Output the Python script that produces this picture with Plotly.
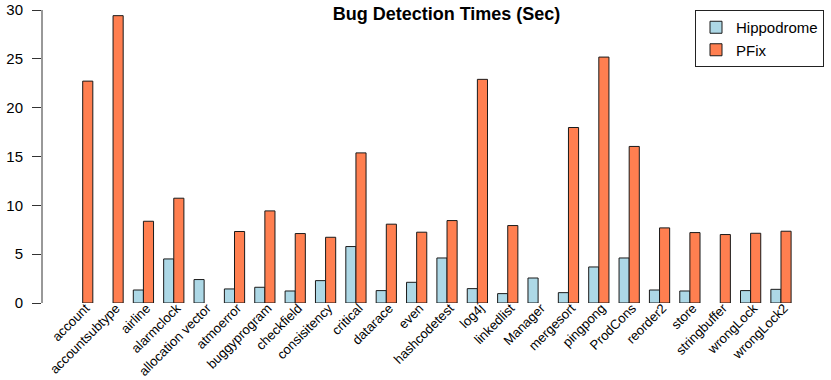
import plotly.graph_objects as go

# bug detection times (seconds)
programs = [
    "account", "accountsubtype", "airline", "alarmclock", "allocation vector",
    "atmoerror", "buggyprogram", "checkfield", "consisitency", "critical",
    "datarace", "even", "hashcodetest", "log4j", "linkedlist", "Manager",
    "mergesort", "pingpong", "ProdCons", "reorder2", "store", "stringbuffer",
    "wrongLock", "wrongLock2",
]
hippodrome = [
    None, None, 1.33, 4.51, 2.40, 1.44, 1.61, 1.23, 2.29, 5.78,
    1.27, 2.12, 4.61, 1.47, 0.96, 2.56, 1.06, 3.69, 4.61, 1.33,
    1.23, None, 1.27, 1.40,
]
pfix = [
    22.72, 29.42, 8.37, 10.73, None, 7.32, 9.43, 7.11, 6.73, 15.37,
    8.07, 7.25, 8.44, 22.90, 7.93, None, 17.97, 25.18, 16.03, 7.69,
    7.21, 7.01, 7.14, 7.35,
]
y_ticks = [0, 5, 10, 15, 20, 25, 30]

FONT = "Liberation Sans, Arial, Helvetica, sans-serif"
W, H = 831, 380
L, R = 42, 831          # plot area left/right in px
T, B = 4, 303           # plot area top/bottom in px (bottom = zero line)
px_y = 9.757            # px per second on the y axis
y_lo, y_hi = 0.0, 30 + 6 / px_y
grp0, grp_w = 82.7, 30.36   # px of first group centre, px per group

fig = go.Figure()
fig.add_trace(go.Bar(
    x=programs, y=hippodrome, name="Hippodrome", cliponaxis=False,
    marker=dict(color="#ADD8E6", line=dict(color="#1a1a1a", width=1)),
))
fig.add_trace(go.Bar(
    x=programs, y=pfix, name="PFix", cliponaxis=False,
    marker=dict(color="#FF7F50", line=dict(color="#1a1a1a", width=1)),
))

# R-style y axis: line spans only the tick range
fig.add_shape(type="line", xref="paper", yref="y", x0=0, x1=0,
              y0=y_ticks[0], y1=y_ticks[-1],
              line=dict(color="#333333", width=1))

fig.update_layout(
    width=W, height=H,
    margin=dict(l=L, r=W - R, t=T, b=H - B, autoexpand=False),
    paper_bgcolor="white", plot_bgcolor="white",
    font=dict(family=FONT, size=15, color="black"),
    barmode="group", bargap=1 / 3, bargroupgap=0,
    title=dict(text="<b>Bug Detection Times (Sec)</b>",
               font=dict(size=18, color="black"),
               x=446.5 / W, xref="container", xanchor="center",
               y=1 - 14 / H, yref="container", yanchor="middle"),
    xaxis=dict(
        range=[(L - grp0) / grp_w, (R - grp0) / grp_w],
        tickangle=-45, showgrid=False, showline=False, ticks="",
        tickfont=dict(size=13.2), zeroline=False,
        ticklabelstandoff=-6, ticklabelshift=3,
    ),
    yaxis=dict(
        range=[y_lo, y_hi], tickvals=y_ticks, showgrid=False,
        showline=False, zeroline=False, ticks="outside", ticklen=9,
        tickcolor="#333333", tickfont=dict(size=15), ticklabelstandoff=6,
        ticklabeloverflow="allow",
    ),
    legend=dict(
        x=(695 - L) / (R - L), y=(B - 10) / (B - T),
        xanchor="left", yanchor="top",
        bordercolor="#222222", borderwidth=1, bgcolor="white",
        font=dict(size=15), tracegroupgap=0,
    ),
    showlegend=True,
)

# drop the browser's default 8px body margin so the figure sits at (0, 0)
fig.write_html("out.html", config={"displayModeBar": False},
               post_script="document.body.style.margin = '0';")
